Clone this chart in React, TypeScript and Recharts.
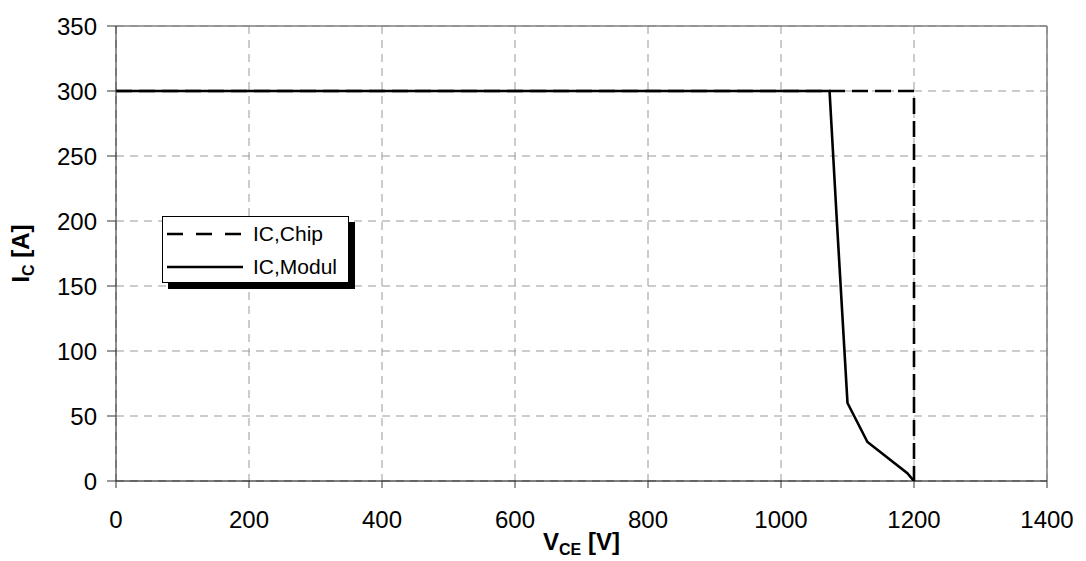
import React from 'react';
import { LineChart, Line, XAxis, YAxis, CartesianGrid, ReferenceLine, Legend } from 'recharts';

const xTicks = [0, 200, 400, 600, 800, 1000, 1200, 1400];
const yTicks = [0, 50, 100, 150, 200, 250, 300, 350];

const chipV = [0, 1200, 1200];
const chipI = [300, 300, 0];

const modulV = [0, 1073, 1084, 1100, 1130, 1190, 1200];
const modulI = [300, 300, 200, 60, 30, 6, 0];

const seriesNames = ['IC,Chip', 'IC,Modul'];

const chipData = chipV.map((v, k) => ({ v, i: chipI[k] }));
const modulData = modulV.map((v, k) => ({ v, i: modulI[k] }));

const FONT = '"Liberation Sans", Arial, Helvetica, sans-serif';

const LegendBox = () => (
  <div
    style={{
      width: 187,
      height: 67,
      boxSizing: 'border-box',
      border: '1px solid #000',
      background: '#fff',
      boxShadow: '6px 6px 0 #000',
      fontFamily: FONT,
      fontSize: 21,
      color: '#000',
      position: 'relative',
    }}
  >
    {seriesNames.map((name, k) => (
      <div key={name} style={{ position: 'absolute', left: 4, top: k === 0 ? 4 : 37, height: 26, display: 'flex', alignItems: 'center' }}>
        <svg width={80} height={6} style={{ display: 'block' }}>
          <line x1={0} y1={3} x2={76} y2={3} stroke="#000" strokeWidth={2.5} strokeDasharray={k === 0 ? '16 13' : undefined} />
        </svg>
        <span style={{ marginLeft: 6, lineHeight: '26px' }}>{name}</span>
      </div>
    ))}
  </div>
);

const XTitle = (props: any) => {
  const vb = props.viewBox || {};
  const cx = (vb.x ?? 116) + (vb.width ?? 931) / 2;
  return (
    <text x={cx} y={550} textAnchor="middle" fontFamily={FONT} fontWeight="bold" fontSize={24} fill="#000">
      <tspan>V</tspan>
      <tspan fontSize={16} dy={5}>CE</tspan>
      <tspan dy={-5}> [V]</tspan>
    </text>
  );
};

const YTitle = (props: any) => {
  const vb = props.viewBox || {};
  const cy = (vb.y ?? 26) + (vb.height ?? 455) / 2;
  return (
    <text x={29} y={cy} transform={`rotate(-90, 29, ${cy})`} textAnchor="middle" fontFamily={FONT} fontWeight="bold" fontSize={24} fill="#000">
      <tspan>I</tspan>
      <tspan fontSize={16} dy={5}>C</tspan>
      <tspan dy={-5}> [A]</tspan>
    </text>
  );
};

export default function App() {
  return (
    <div style={{ position: 'fixed', left: 0, top: 0, width: 1086, height: 561, background: '#fff' }}>
      <LineChart width={1086} height={561} margin={{ top: 26, right: 39, left: 0, bottom: 0 }}>
        <CartesianGrid stroke="#999" strokeDasharray="8 6" strokeWidth={1} />
        <XAxis
          dataKey="v"
          type="number"
          domain={[0, 1400]}
          ticks={xTicks}
          allowDataOverflow
          height={80}
          stroke="#000"
          tickLine={{ stroke: '#333' }}
          tickSize={7}
          tickMargin={23}
          tick={{ fontFamily: FONT, fontSize: 24, fill: '#000' }}
          label={{ content: XTitle }}
        />
        <YAxis
          dataKey="i"
          type="number"
          domain={[0, 350]}
          ticks={yTicks}
          allowDataOverflow
          width={116}
          stroke="#222"
          tickLine={{ stroke: '#333' }}
          tickSize={9}
          tickMargin={10}
          tick={{ fontFamily: FONT, fontSize: 24, fill: '#000' }}
          label={{ content: YTitle }}
        />
        <ReferenceLine x={1400} stroke="#808080" strokeWidth={1.5} />
        <ReferenceLine y={350} stroke="#808080" strokeWidth={1.5} />
        <Legend
          layout="horizontal"
          verticalAlign="middle"
          align="center"
          content={<LegendBox />}
          wrapperStyle={{ position: 'absolute', left: 162, top: 216, width: 'auto', height: 'auto', bottom: 'auto', right: 'auto' }}
        />
        <Line data={chipData} dataKey="i" name={seriesNames[0]} type="linear" stroke="#000" strokeWidth={2.6} strokeDasharray="16 7" dot={false} activeDot={false} isAnimationActive={false} />
        <Line data={modulData} dataKey="i" name={seriesNames[1]} type="linear" stroke="#000" strokeWidth={2.6} dot={false} activeDot={false} isAnimationActive={false} />
      </LineChart>
    </div>
  );
}
